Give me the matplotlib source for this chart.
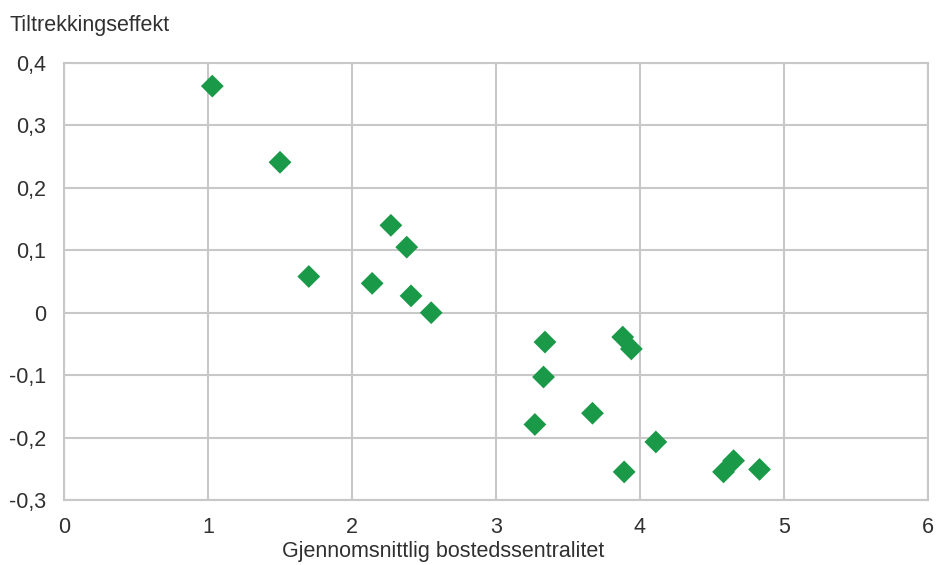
import matplotlib.pyplot as plt
from matplotlib.ticker import FuncFormatter

plt.rcParams['font.family'] = ['Liberation Sans', 'DejaVu Sans']

# gjennomsnittlig bostedssentralitet og tiltrekkingseffekt
sentralitet = [1.03, 1.50, 1.70, 2.27, 2.38, 2.14, 2.41, 2.55, 3.34, 3.33, 3.27, 3.67,
               3.88, 3.94, 3.89, 4.11, 4.58, 4.65, 4.83]
effekt = [0.363, 0.241, 0.058, 0.140, 0.105, 0.047, 0.027, 0.000, -0.047, -0.103, -0.179,
          -0.161, -0.039, -0.058, -0.255, -0.207, -0.255, -0.237, -0.251]

x_ticks = [0, 1, 2, 3, 4, 5, 6]
y_ticks = [-0.3, -0.2, -0.1, 0, 0.1, 0.2, 0.3, 0.4]

fig = plt.figure(figsize=(9.36, 5.65), dpi=100)
ax = fig.add_axes([64 / 936, 1 - 500 / 565, 864 / 936, 437 / 565])

ax.scatter(sentralitet, effekt, marker='D', s=135, color='#1A9A48', edgecolors='none', zorder=3)

ax.set_xlim(0, 6)
ax.set_ylim(-0.3, 0.4)
ax.set_xticks(x_ticks)
ax.set_yticks(y_ticks)
ax.yaxis.set_major_formatter(FuncFormatter(lambda v, p: f"{v:.1f}".replace('.', ',').replace('-0,0', '0').replace('0,0', '0')))
ax.xaxis.set_major_formatter(FuncFormatter(lambda v, p: f"{v:.0f}"))
ax.grid(True, color='#C8C8C8', linewidth=1.5)
ax.set_axisbelow(True)
for s in ax.spines.values():
    s.set_color('#C8C8C8')
    s.set_linewidth(1.5)
ax.tick_params(length=0, labelsize=15.5, colors='#303030')
ax.tick_params(axis='y', pad=13)
ax.tick_params(axis='x', pad=12)

fig.text(443 / 936, 1 - 551 / 565, "Gjennomsnittlig bostedssentralitet", fontsize=15.5, color='#303030',
         va='center', ha='center')
fig.text(10 / 936, 1 - 25 / 565, "Tiltrekkingseffekt", fontsize=15.5, color='#303030', va='center', ha='left')

fig.savefig("out.png", dpi=100)
